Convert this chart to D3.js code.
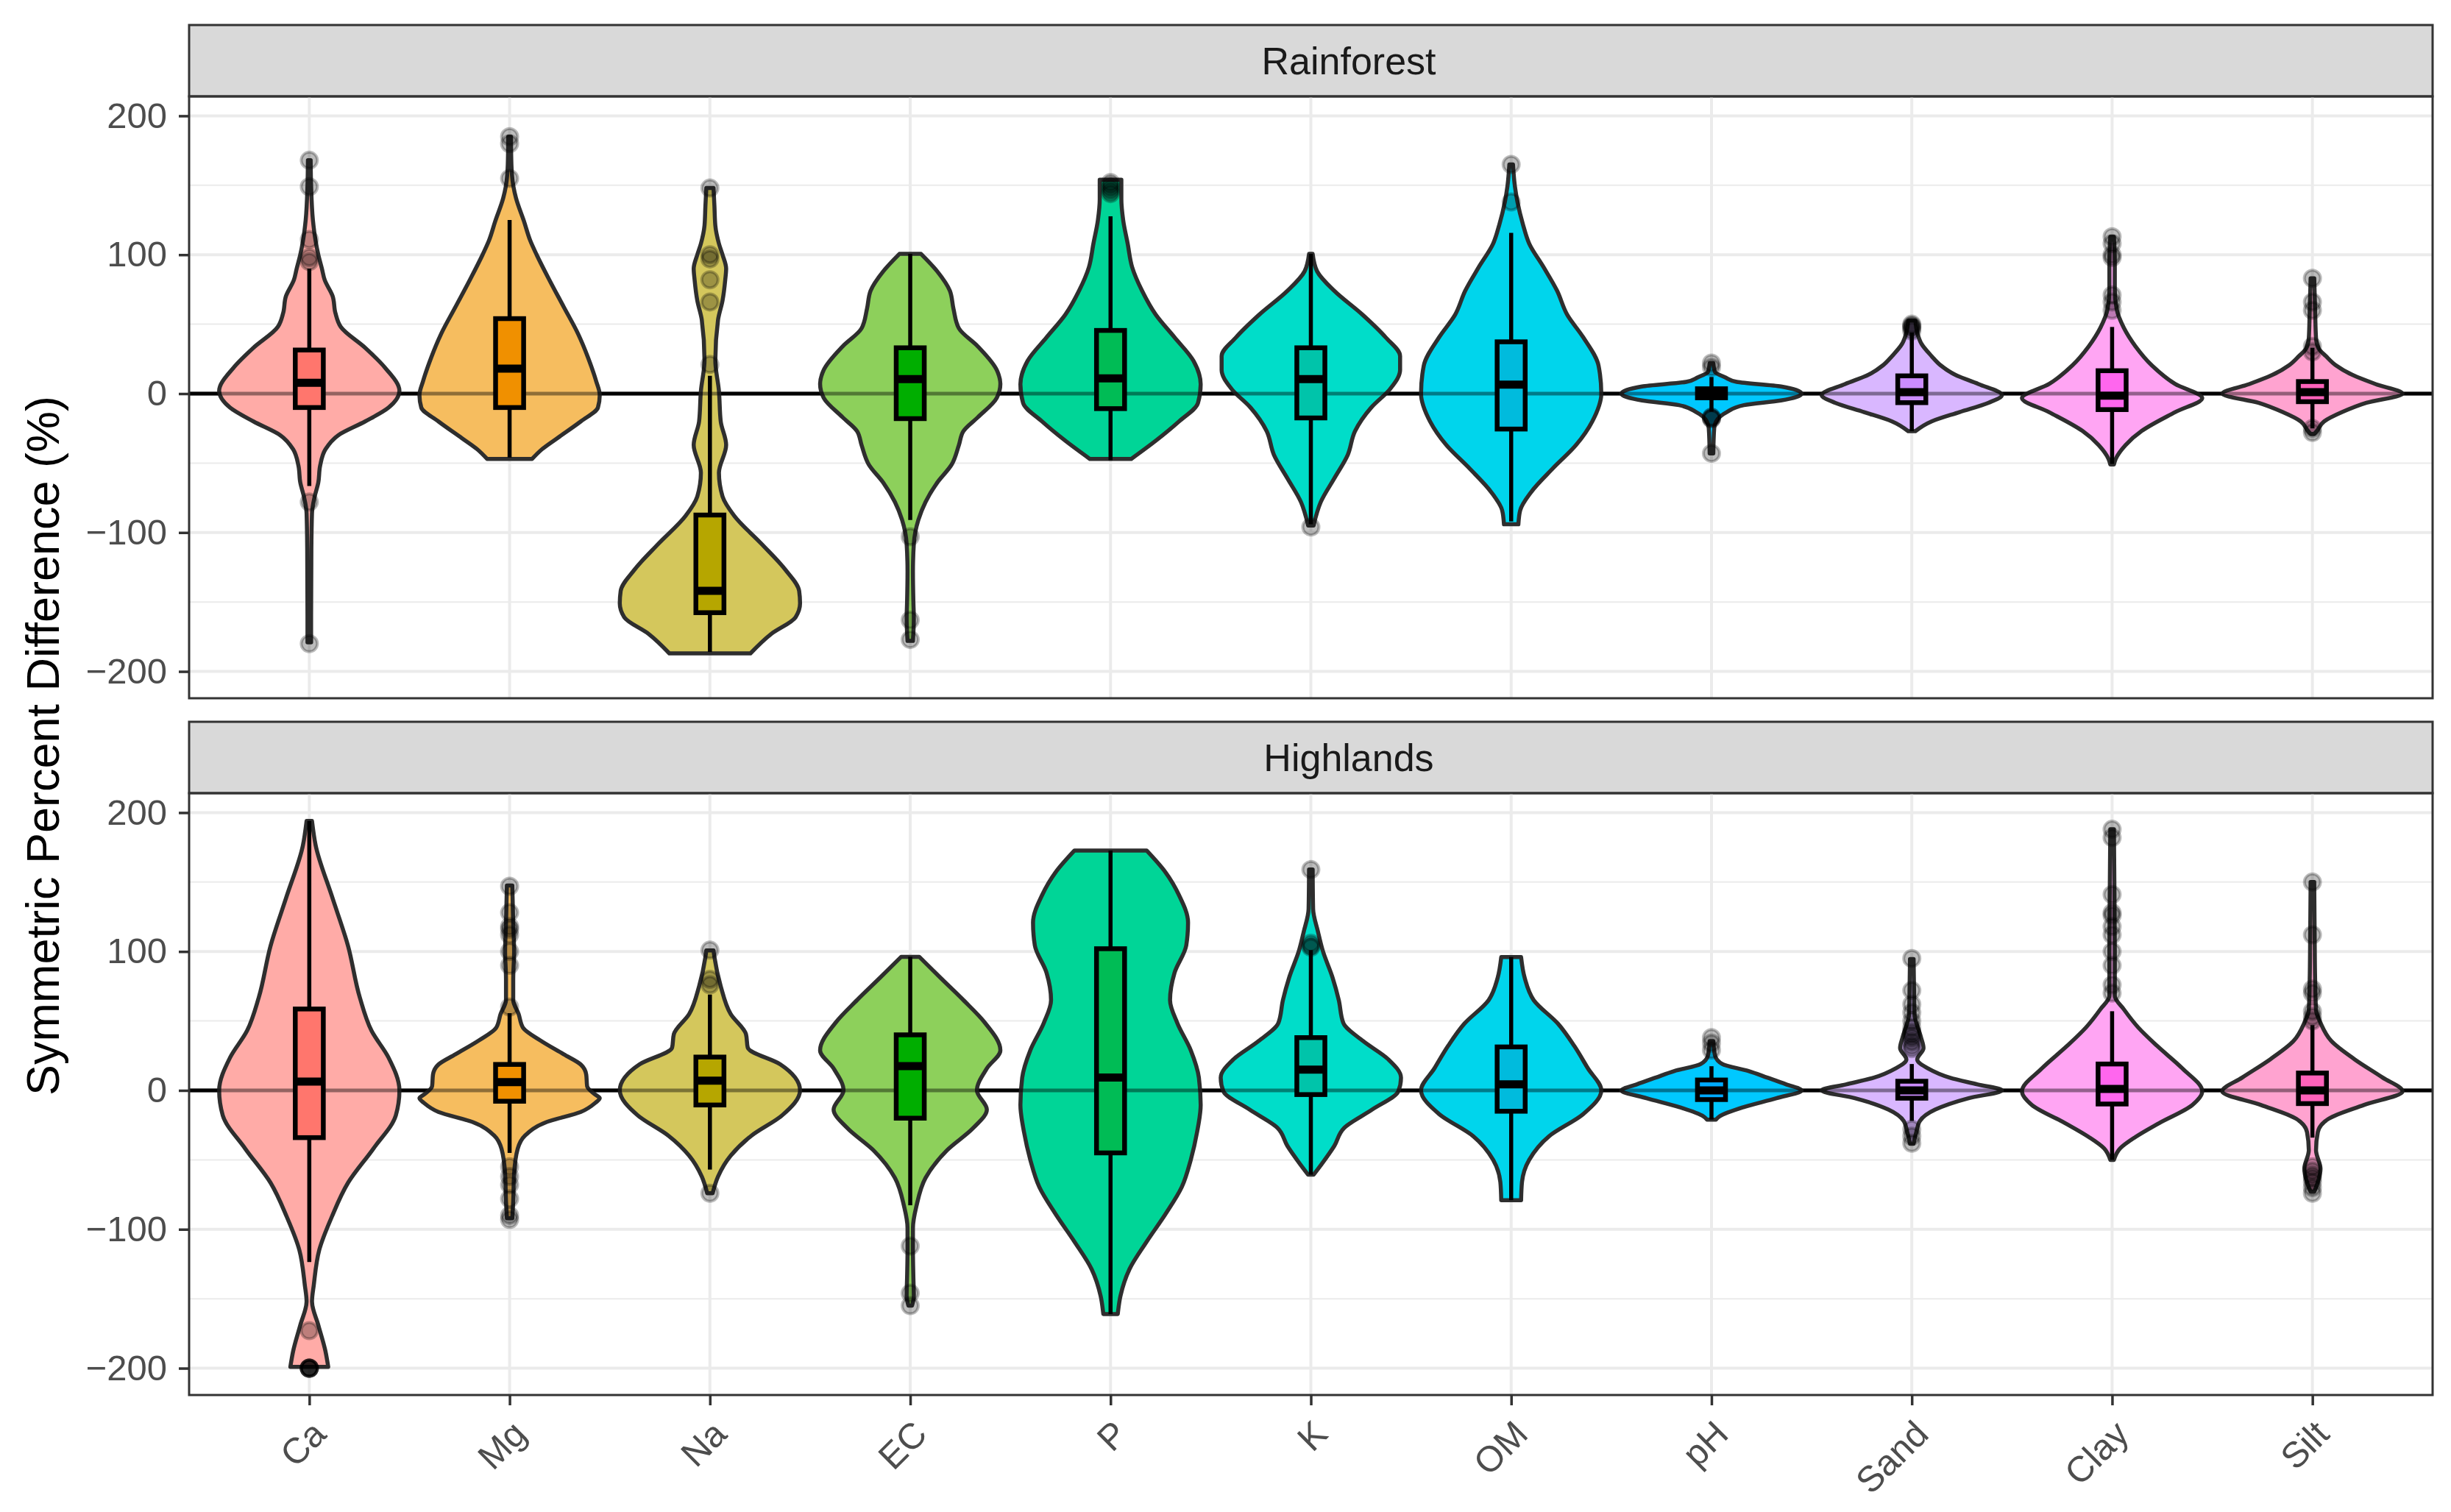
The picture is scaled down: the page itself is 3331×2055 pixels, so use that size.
<!DOCTYPE html>
<html>
<head>
<meta charset="utf-8">
<script src="https://cdn.jsdelivr.net/npm/d3@7"></script>
<style>
  html, body { margin: 0; padding: 0; background: #fff; }
  svg { display: block; font-family: "Liberation Sans", Arial, Helvetica, sans-serif; }
</style>
</head>
<body>
<div id="chart"></div>
<script>
// ---- data ----
const categories = ["Ca", "Mg", "Na", "EC", "P", "K", "OM", "pH", "Sand", "Clay", "Silt"];
const panels = ["Rainforest", "Highlands"];
const yTicks = [-200, -100, 0, 100, 200];
const yMinor = [-150, -50, 50, 150];

// violin outlines: [value, relative half width]
const rainforestViolin = [
  [[168,0.015],[150,0.02],[125,0.04],[110,0.07],[100,0.1],[90,0.14],[82,0.17],[70,0.26],[58,0.29],[48,0.35],[33,0.62],[18.7,0.84],[2,1.0],[-10,0.88],[-20,0.62],[-30,0.32],[-40,0.18],[-52,0.12],[-64,0.1],[-74,0.06],[-86,0.03],[-112,0.023],[-160,0.02],[-179,0.02]],
  [[185,0.015],[165,0.02],[150,0.04],[141,0.07],[124,0.16],[110,0.23],[100,0.3],[82,0.44],[62.5,0.6],[43,0.76],[26,0.87],[9,0.96],[-1,1.0],[-10,0.98],[-20,0.79],[-32,0.53],[-40,0.36],[-47,0.25]],
  [[148,0.04],[135,0.05],[121,0.06],[108,0.1],[100,0.14],[90,0.18],[82,0.17],[67,0.14],[53,0.09],[24,0.06],[2,0.1],[-20,0.12],[-37,0.18],[-57,0.1],[-74,0.14],[-88,0.27],[-108,0.57],[-127,0.84],[-142,0.99],[-151,1.0],[-161,0.95],[-173,0.68],[-187,0.45]],
  [[100.6,0.12],[88,0.3],[74,0.44],[61,0.48],[47,0.54],[34,0.75],[17,0.96],[7,1.0],[-3,0.96],[-17,0.75],[-27,0.59],[-37,0.54],[-51,0.46],[-64,0.3],[-78,0.17],[-91,0.09],[-108,0.04],[-128,0.03],[-150,0.035],[-162,0.04],[-178,0.03]],
  [[154,0.12],[140,0.12],[125,0.14],[108,0.19],[91,0.24],[74,0.35],[57,0.5],[40.5,0.71],[23.6,0.92],[6.8,1.0],[-6.8,0.97],[-20,0.76],[-34,0.5],[-47,0.23]],
  [[100.6,0.02],[88,0.07],[74,0.26],[57,0.57],[40.5,0.83],[27,0.99],[17,0.99],[3.4,0.88],[-10,0.67],[-27,0.49],[-44,0.41],[-61,0.26],[-78,0.11],[-95,0.03]],
  [[165,0.02],[150,0.04],[138,0.07],[122,0.13],[108,0.2],[91,0.36],[74,0.51],[57,0.62],[40.5,0.8],[20,0.97],[0,1.0],[-20,0.9],[-37,0.72],[-54,0.46],[-71,0.22],[-84,0.1],[-94,0.08]],
  [[22,0.02],[15.5,0.04],[11.8,0.15],[8.5,0.28],[5.2,0.77],[0,1.0],[-4.9,0.77],[-8.3,0.36],[-13.3,0.17],[-18.3,0.07],[-25,0.03],[-43,0.02]],
  [[52.6,0.04],[44,0.06],[35.6,0.11],[27,0.22],[20.4,0.32],[13.6,0.48],[6.9,0.74],[-1,1.0],[-6.6,0.85],[-13.3,0.53],[-20,0.22],[-27,0.04]],
  [[113,0.02],[95,0.03],[75,0.03],[61,0.05],[47.4,0.13],[34,0.26],[20.4,0.44],[6.9,0.7],[-3.2,1.0],[-13.3,0.7],[-26.8,0.33],[-37,0.15],[-47,0.04],[-51,0.02]],
  [[83,0.02],[60,0.03],[40,0.04],[32.4,0.07],[27,0.15],[20.4,0.26],[13.6,0.44],[6.9,0.7],[0,1.0],[-6.6,0.6],[-13.3,0.33],[-20,0.13],[-26.8,0.05],[-29,0.02]]
];
const highlandsViolin = [
  [[194,0.03],[176.6,0.07],[140,0.25],[104,0.43],[67,0.56],[43,0.69],[23.5,0.88],[0,1.0],[-18,0.96],[-42,0.71],[-66.5,0.43],[-91,0.25],[-115,0.11],[-140,0.05],[-152,0.03],[-169,0.1],[-188,0.18],[-199,0.21]],
  [[147.5,0.03],[120,0.04],[100,0.05],[80,0.04],[65,0.04],[55,0.1],[45,0.15],[36,0.34],[26,0.6],[18.6,0.79],[11.4,0.85],[3,0.86],[-3,0.95],[-5.6,1.0],[-9,0.95],[-15.5,0.79],[-22.8,0.41],[-32.6,0.17],[-42,0.09],[-60,0.05],[-80,0.04],[-92,0.03]],
  [[100.8,0.04],[96,0.05],[75,0.12],[55,0.23],[40.5,0.4],[30.7,0.42],[18.8,0.78],[0,1.0],[-18,0.8],[-32.6,0.46],[-47,0.23],[-62,0.09],[-74,0.03]],
  [[96.2,0.1],[81.4,0.33],[65,0.59],[48.6,0.83],[28.9,1.0],[15.8,0.85],[0,0.74],[-13.8,0.85],[-27,0.7],[-43,0.41],[-63,0.17],[-83,0.07],[-99,0.03],[-115,0.03],[-135,0.035],[-148,0.04],[-155,0.02]],
  [[172.7,0.4],[157,0.61],[140.5,0.76],[120.8,0.86],[104.4,0.84],[84.7,0.71],[65,0.66],[48.6,0.74],[28.9,0.89],[9.2,0.98],[-10.5,1.0],[-30,0.96],[-50,0.89],[-69.6,0.79],[-89,0.61],[-109,0.4],[-128.7,0.21],[-148,0.11],[-161,0.08]],
  [[159,0.02],[130.7,0.025],[114,0.08],[101,0.13],[81.4,0.24],[65,0.31],[48.6,0.36],[35.5,0.58],[22.3,0.86],[9.2,1.0],[-0.7,0.97],[-13.8,0.68],[-27,0.37],[-40,0.26],[-53,0.12],[-60.7,0.03]],
  [[96,0.11],[81,0.15],[65,0.25],[48,0.52],[32,0.7],[16,0.85],[0,1.0],[-17,0.8],[-33,0.42],[-50,0.2],[-66,0.12],[-79,0.11]],
  [[35.5,0.02],[25,0.04],[19,0.12],[14,0.41],[9.2,0.62],[4.3,0.83],[0,1.0],[-5.6,0.72],[-12,0.36],[-18.7,0.09],[-21,0.05]],
  [[94.5,0.02],[71.6,0.025],[55,0.03],[38.7,0.1],[30.5,0.13],[22.3,0.06],[15.8,0.18],[9.2,0.42],[4.3,0.73],[0,1.0],[-5.6,0.63],[-13.8,0.26],[-22,0.09],[-30,0.05],[-38.4,0.02]],
  [[188,0.02],[150,0.025],[100,0.03],[68,0.03],[58.4,0.13],[45.3,0.29],[32,0.5],[15.8,0.78],[-0.7,1.0],[-10.5,0.89],[-23.6,0.52],[-33.5,0.26],[-41.7,0.09],[-50,0.02]],
  [[150,0.02],[110,0.025],[80,0.03],[58,0.04],[48.6,0.09],[35.5,0.21],[22.3,0.47],[9.2,0.78],[-0.7,1.0],[-10.5,0.57],[-20.4,0.18],[-30,0.06],[-43,0.04],[-56.5,0.09],[-66,0.06],[-73,0.02]]
];

// boxplot stats: [lower whisker, q1, median, q3, upper whisker]
const rainforestBox = [
  [-66.5, -10, 7.8, 31.4, 90], [-46, -10, 18, 54, 125], [-186, -157.7, -142, -87.4, 12.8],
  [-91, -18, 10.5, 33, 100.6], [-48, -10.8, 11, 45.5, 127.6], [-94, -17.5, 10.5, 33, 100.6],
  [-92, -25.5, 6.5, 37.3, 115.8], [-13, -3, 0, 3.5, 12], [-27, -6.5, 1, 12.8, 44],
  [-50.6, -11.5, -1.5, 16.5, 48], [-25, -5.8, 1, 8.7, 33]
];
const highlandsBox = [
  [-123.6, -34, 6.3, 58.6, 194], [-45, -7.8, 6, 18.7, 55.6], [-57, -10.5, 7, 24, 69],
  [-82.7, -20, 17.5, 40, 96.2], [-161, -45, 9.3, 102, 172.7], [-60.7, -3, 15, 38, 101],
  [-79, -15, 4.4, 31.3, 96], [-21, -6.6, 0, 7.5, 17.4], [-22, -5.6, 0, 6.6, 19],
  [-50, -9.8, 1, 19, 57], [-34, -9.5, 0, 12.5, 47]
];

const rainforestOutliers = [
  [168, 149, 111, 98, 95, -78, -180], [185, 180, 155], [148, 100, 97, 82, 66, 21],
  [-103, -163, -177], [152, 150, 148, 146, 144], [-96], [165, 138],
  [22, 19, -17, -17, -18, -18, -43], [50, 49, 48, 47, 45],
  [113, 108, 100, 98, 71, 66, 60], [83, 66, 60, 34, 30, -25, -28]
];
const highlandsOutliers = [
  [-173, -200, -200, -200, -200, -200, -200], [147, 128, 118, 116, 112, 100, 90, 60, -55, -62, -68, -78, -90, -93],
  [101, 80, 76, -74], [-112, -146, -155], [], [159, 106, 104, 103], [], [38, 34, 29],
  [95, 72, 62, 56, 50, 45, 42, 40, 38, 35, 32, 30, -28, -33, -38],
  [188, 182, 141, 128, 126, 118, 112, 100, 90, 76, 70],
  [150, 112, 73, 70, 57, 53, 50, -55, -58, -61, -63, -66, -70, -74]
];

// ---- styles ----
const violinColors = ["#FFABA7", "#F6BD5F", "#D4C75C", "#8DD05B", "#00D597", "#00DDC9", "#00D5EC", "#00C8FF", "#D9B7FF", "#FFA5F3", "#FFA3D0"];
const boxColors = ["#FF766D", "#F09000", "#B6A600", "#00AE00", "#00BC55", "#00C4AA", "#00BBDD", "#00AAFF", "#CB8CFF", "#FF66EE", "#FF62BA"];

const width = 3331, height = 2055;
const left = 257, right = 3306;
const stripH = 97, panelH = 818;
const panelTops = [131, 1078];
const stripLabelX = 1833;

const violinData = [rainforestViolin, highlandsViolin];
const boxData = [rainforestBox, highlandsBox];
const outlierData = [rainforestOutliers, highlandsOutliers];

const svg = d3.select("#chart").append("svg")
  .attr("width", width)
  .attr("height", height);

svg.append("rect").attr("width", width).attr("height", height).attr("fill", "#fff");

const x = d3.scalePoint().domain(categories).range([left, right]).padding(0.6);
const step = x.step();
const halfW = d3.scaleLinear().domain([0, 1]).range([0, 0.45 * step]);
const boxW = 0.14 * step;
const fmt = d => d < 0 ? "\u2212" + Math.abs(d) : String(d);

panels.forEach((name, p) => {
  const top = panelTops[p], bottom = top + panelH;
  const y = d3.scaleLinear().domain([-219.3, 214]).range([bottom, top]);
  const g = svg.append("g");

  // strip
  g.append("rect")
    .attr("x", left).attr("y", top - stripH)
    .attr("width", right - left).attr("height", stripH)
    .attr("fill", "#d9d9d9").attr("stroke", "#333").attr("stroke-width", 3);
  g.append("text")
    .attr("x", stripLabelX).attr("y", top - stripH / 2)
    .attr("dy", "0.36em")
    .attr("text-anchor", "middle")
    .style("font-size", "52px").attr("fill", "#1a1a1a")
    .text(name);

  // grid
  g.selectAll(".minor").data(yMinor).join("line")
    .attr("x1", left).attr("x2", right)
    .attr("y1", d => y(d)).attr("y2", d => y(d))
    .attr("stroke", "#ebebeb").attr("stroke-width", 2);
  g.selectAll(".major").data(yTicks).join("line")
    .attr("x1", left).attr("x2", right)
    .attr("y1", d => y(d)).attr("y2", d => y(d))
    .attr("stroke", "#ebebeb").attr("stroke-width", 4);
  g.selectAll(".vgrid").data(categories).join("line")
    .attr("x1", d => x(d)).attr("x2", d => x(d))
    .attr("y1", top).attr("y2", bottom)
    .attr("stroke", "#ebebeb").attr("stroke-width", 4);

  // zero reference line (under violins)
  g.append("line")
    .attr("x1", left).attr("x2", right).attr("y1", y(0)).attr("y2", y(0))
    .attr("stroke", "#000").attr("stroke-width", 5);

  // violins
  categories.forEach((c, i) => {
    const cx = x(c);
    const pts = violinData[p][i].slice().sort((a, b) => b[0] - a[0]);
    const area = d3.area()
      .y(d => y(d[0]))
      .x0(d => cx - halfW(d[1]))
      .x1(d => cx + halfW(d[1]))
      .curve(d3.curveMonotoneY);
    g.append("path")
      .attr("d", area(pts))
      .attr("fill", violinColors[i])
      .attr("stroke", "#2e2e2e").attr("stroke-width", 5.5)
      .attr("stroke-linejoin", "round");
  });

  // zero line seen through the translucent violins
  g.append("line")
    .attr("x1", left).attr("x2", right).attr("y1", y(0)).attr("y2", y(0))
    .attr("stroke", "#000").attr("stroke-opacity", 0.42).attr("stroke-width", 5);

  // boxplots
  categories.forEach((c, i) => {
    const cx = x(c);
    const [lo, q1, med, q3, hi] = boxData[p][i];
    const bg = g.append("g");
    bg.append("line")
      .attr("x1", cx).attr("x2", cx).attr("y1", y(hi)).attr("y2", y(q3))
      .attr("stroke", "#000").attr("stroke-width", 5.5);
    bg.append("line")
      .attr("x1", cx).attr("x2", cx).attr("y1", y(q1)).attr("y2", y(lo))
      .attr("stroke", "#000").attr("stroke-width", 5.5);
    bg.append("rect")
      .attr("x", cx - boxW / 2).attr("y", y(q3))
      .attr("width", boxW).attr("height", y(q1) - y(q3))
      .attr("fill", boxColors[i]).attr("stroke", "#000").attr("stroke-width", 6.5);
    bg.append("line")
      .attr("x1", cx - boxW / 2).attr("x2", cx + boxW / 2)
      .attr("y1", y(med)).attr("y2", y(med))
      .attr("stroke", "#000").attr("stroke-width", 11);

    bg.selectAll("circle").data(outlierData[p][i]).join("circle")
      .attr("cx", cx).attr("cy", d => y(d)).attr("r", 11)
      .attr("fill", "#000").attr("fill-opacity", 0.26)
      .attr("stroke", "#000").attr("stroke-opacity", 0.26).attr("stroke-width", 4);
  });

  // panel border
  g.append("rect")
    .attr("x", left).attr("y", top).attr("width", right - left).attr("height", panelH)
    .attr("fill", "none").attr("stroke", "#333").attr("stroke-width", 3);

  // y axis
  const ya = g.append("g")
    .attr("transform", `translate(${left},0)`)
    .call(d3.axisLeft(y).tickValues(yTicks).tickSize(14).tickPadding(16).tickFormat(fmt));
  ya.select(".domain").remove();
  ya.selectAll("line").attr("stroke", "#333").attr("stroke-width", 3.5);
  ya.selectAll("text")
    .attr("fill", "#4d4d4d")
    .style("font-size", "49px")
    .style("font-family", "'Liberation Sans', Arial, sans-serif");

  if (p === panels.length - 1) {
    const xa = g.append("g")
      .attr("transform", `translate(0,${bottom})`)
      .call(d3.axisBottom(x).tickSize(14));
    xa.select(".domain").remove();
    xa.selectAll("line").attr("stroke", "#333").attr("stroke-width", 3.5);
    xa.selectAll("text")
      .attr("x", 0).attr("y", 0).attr("dy", "0.72em")
      .attr("text-anchor", "end")
      .attr("transform", "translate(0,31) rotate(-45)")
      .attr("fill", "#4d4d4d")
      .style("font-size", "49px")
      .style("font-family", "'Liberation Sans', Arial, sans-serif");
  }
});

// y axis title
svg.append("text")
  .attr("transform", `translate(80,${(panelTops[0] + panelTops[1] + panelH) / 2}) rotate(-90)`)
  .attr("text-anchor", "middle")
  .style("font-size", "63px")
  .attr("fill", "#000")
  .text("Symmetric Percent Difference (%)");
</script>
</body>
</html>
